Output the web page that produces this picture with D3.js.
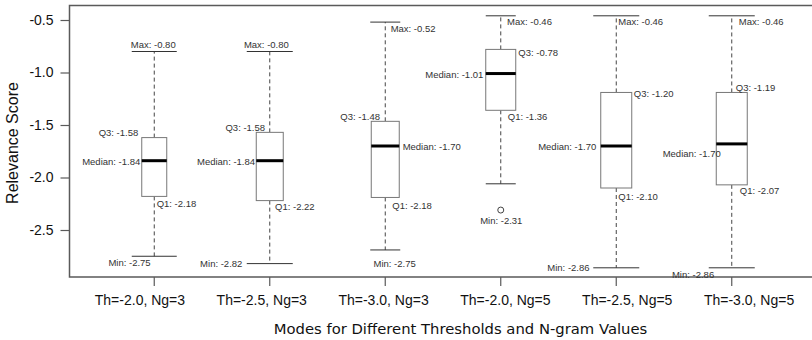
<!DOCTYPE html>
<html>
<head>
<meta charset="utf-8">
<script src="https://cdn.jsdelivr.net/npm/d3@7"></script>
<style>
  body { margin: 0; background: #fff; }
  svg { display: block; }
</style>
</head>
<body>
<div id="chart"></div>
<script>
// modes on the x axis
const categories = ['Th=-2.0, Ng=3', 'Th=-2.5, Ng=3', 'Th=-3.0, Ng=3', 'Th=-2.0, Ng=5', 'Th=-2.5, Ng=5', 'Th=-3.0, Ng=5'];

// box statistics as drawn
const whiskerHigh = [-0.80, -0.80, -0.52, -0.46, -0.46, -0.46];
const q3 = [-1.62, -1.57, -1.465, -0.78, -1.19, -1.19];
const median = [-1.84, -1.84, -1.70, -1.01, -1.70, -1.68];
const q1 = [-2.18, -2.22, -2.19, -1.36, -2.10, -2.07];
const whiskerLow = [-2.75, -2.82, -2.69, -2.06, -2.86, -2.86];
const outliers = [[], [], [], [-2.31], [], []];

// annotated values
const maxLabels = [-0.80, -0.80, -0.52, -0.46, -0.46, -0.46];
const q3Labels = [-1.58, -1.58, -1.48, -0.78, -1.20, -1.19];
const medianLabels = [-1.84, -1.84, -1.70, -1.01, -1.70, -1.70];
const q1Labels = [-2.18, -2.22, -2.18, -1.36, -2.10, -2.07];
const minLabels = [-2.75, -2.82, -2.75, -2.31, -2.86, -2.86];

const yTicks = [-0.5, -1.0, -1.5, -2.0, -2.5];

const width = 812, height = 340;
const frame = { left: 69.5, top: 5.5, bottom: 277 };

const svg = d3.select('#chart').append('svg')
  .attr('width', width)
  .attr('height', height);

const y = d3.scaleLinear().domain([-0.5, -2.5]).range([20, 230]);
const x = d3.scaleBand().domain(categories).range([96.5, 789.5]);
const xLabel = d3.scaleBand().domain(categories).range([79, 810]);

// per box sizes (relative sample widths and staple lengths)
const boxW = [25, 27, 28, 30, 31, 31];
const stapleW = [45, 46, 30, 30, 46, 46];

// label placement: dx from box centre, dy from value, text anchor
const labelPos = [
  { max: [-1, -7, 'middle'], q3: [-16, -5, 'end'], med: [-14, 0.5, 'end'], q1: [2.4, 7, 'start'], min: [-3.6, 6.5, 'end'] },
  { max: [-3.4, -7, 'middle'], q3: [-4.7, -5, 'end'], med: [-14.7, 0.5, 'end'], q1: [5.3, 5.5, 'start'], min: [-27.4, -0.5, 'end'] },
  { max: [5.4, 6, 'start'], q3: [-5.3, -5.3, 'end'], med: [17.4, 0, 'start'], q1: [7, 8, 'start'], min: [9.4, 13.4, 'middle'] },
  { max: [6.3, 6, 'start'], q3: [17.6, 3, 'start'], med: [-17.4, 1, 'end'], q1: [7, 6, 'start'], min: [0.5, 10.7, 'middle'] },
  { max: [2, 5.7, 'start'], q3: [17.6, 1, 'start'], med: [-20, 0, 'end'], q1: [2, 8.3, 'start'], min: [-26.7, 0, 'end'] },
  { max: [7, 5.7, 'start'], q3: [4, -5.4, 'start'], med: [-11, 10, 'end'], q1: [8, 5.3, 'start'], min: [-38.7, 7, 'middle'] }
];

// plain hyphen minus, like the original
const fmt = v => v.toFixed(2);

// frame (top, left, bottom)
svg.append('path')
  .attr('d', `M${width},${frame.top}H${frame.left}V${frame.bottom}H${width}`)
  .attr('fill', 'none')
  .attr('stroke', '#5a5a5a')
  .attr('stroke-width', 1.5);

// y axis
const yAxis = svg.append('g')
  .attr('transform', `translate(${frame.left},0)`)
  .call(d3.axisLeft(y).tickValues(yTicks).tickFormat(d => d.toFixed(1)).tickSize(9).tickPadding(7));
yAxis.select('.domain').remove();
yAxis.selectAll('line').attr('stroke', '#5a5a5a').attr('stroke-width', 1.2);
yAxis.selectAll('text')
  .attr('fill', '#111')
  .style('font-family', '"Liberation Sans", Arial, sans-serif')
  .style('font-size', '14px');

// x axis ticks at box centres
const xAxis = svg.append('g')
  .attr('transform', `translate(0,${frame.bottom})`)
  .call(d3.axisBottom(x).tickSize(9).tickFormat(''));
xAxis.select('.domain').remove();
xAxis.selectAll('line').attr('stroke', '#5a5a5a').attr('stroke-width', 1.2);

// x tick labels
const xText = svg.append('g')
  .attr('transform', `translate(0,${frame.bottom})`)
  .call(d3.axisBottom(xLabel).tickSize(0).tickPadding(18));
xText.select('.domain').remove();
xText.selectAll('text')
  .attr('fill', '#111')
  .style('font-family', '"Liberation Sans", Arial, sans-serif')
  .style('font-size', '14px');

// boxes
const boxes = svg.append('g').selectAll('g')
  .data(categories)
  .join('g')
  .attr('transform', d => `translate(${x(d) + x.bandwidth() / 2},0)`);

// whiskers
boxes.append('line')
  .attr('y1', (d, i) => y(q3[i])).attr('y2', (d, i) => y(whiskerHigh[i]))
  .attr('stroke', '#444').attr('stroke-dasharray', '4,3');
boxes.append('line')
  .attr('y1', (d, i) => y(q1[i])).attr('y2', (d, i) => y(whiskerLow[i]))
  .attr('stroke', '#444').attr('stroke-dasharray', '4,3');

// staples
boxes.append('line')
  .attr('x1', (d, i) => -stapleW[i] / 2).attr('x2', (d, i) => stapleW[i] / 2)
  .attr('y1', (d, i) => y(whiskerHigh[i])).attr('y2', (d, i) => y(whiskerHigh[i]))
  .attr('stroke', '#333');
boxes.append('line')
  .attr('x1', (d, i) => -stapleW[i] / 2).attr('x2', (d, i) => stapleW[i] / 2)
  .attr('y1', (d, i) => y(whiskerLow[i])).attr('y2', (d, i) => y(whiskerLow[i]))
  .attr('stroke', '#333');

// box body
boxes.append('rect')
  .attr('x', (d, i) => -boxW[i] / 2)
  .attr('width', (d, i) => boxW[i])
  .attr('y', (d, i) => y(q3[i]))
  .attr('height', (d, i) => y(q1[i]) - y(q3[i]))
  .attr('fill', '#fff')
  .attr('stroke', '#777');

// median
boxes.append('line')
  .attr('x1', (d, i) => -boxW[i] / 2).attr('x2', (d, i) => boxW[i] / 2)
  .attr('y1', (d, i) => y(median[i])).attr('y2', (d, i) => y(median[i]))
  .attr('stroke', '#000').attr('stroke-width', 3);

// outliers
boxes.selectAll('circle')
  .data((d, i) => outliers[i])
  .join('circle')
  .attr('cy', d => y(d))
  .attr('r', 3)
  .attr('fill', 'none')
  .attr('stroke', '#444');

// annotations
function annotate(key, prefix, values, anchorValues) {
  boxes.append('text')
    .attr('x', (d, i) => labelPos[i][key][0])
    .attr('y', (d, i) => y(anchorValues[i]) + labelPos[i][key][1])
    .attr('text-anchor', (d, i) => labelPos[i][key][2])
    .attr('dominant-baseline', 'central')
    .attr('fill', '#333')
    .style('font-family', '"Liberation Sans", Arial, sans-serif')
    .style('font-size', '9.5px')
    .text((d, i) => `${prefix}: ${fmt(values[i])}`);
}
annotate('max', 'Max', maxLabels, whiskerHigh);
annotate('q3', 'Q3', q3Labels, q3);
annotate('med', 'Median', medianLabels, median);
annotate('q1', 'Q1', q1Labels, q1);
annotate('min', 'Min', minLabels, categories.map((c, i) => outliers[i].length ? d3.min(outliers[i]) : whiskerLow[i]));

// axis titles
svg.append('text')
  .attr('x', 460.5)
  .attr('y', 334)
  .attr('text-anchor', 'middle')
  .attr('fill', '#111')
  .style('font-family', '"DejaVu Sans", Verdana, sans-serif')
  .style('font-size', '14.8px')
  .text('Modes for Different Thresholds and N-gram Values');

svg.append('text')
  .attr('transform', 'translate(18,143) rotate(-90)')
  .attr('text-anchor', 'middle')
  .attr('fill', '#111')
  .style('font-family', '"Liberation Sans", Arial, sans-serif')
  .style('font-size', '16px')
  .text('Relevance Score');
</script>
</body>
</html>
